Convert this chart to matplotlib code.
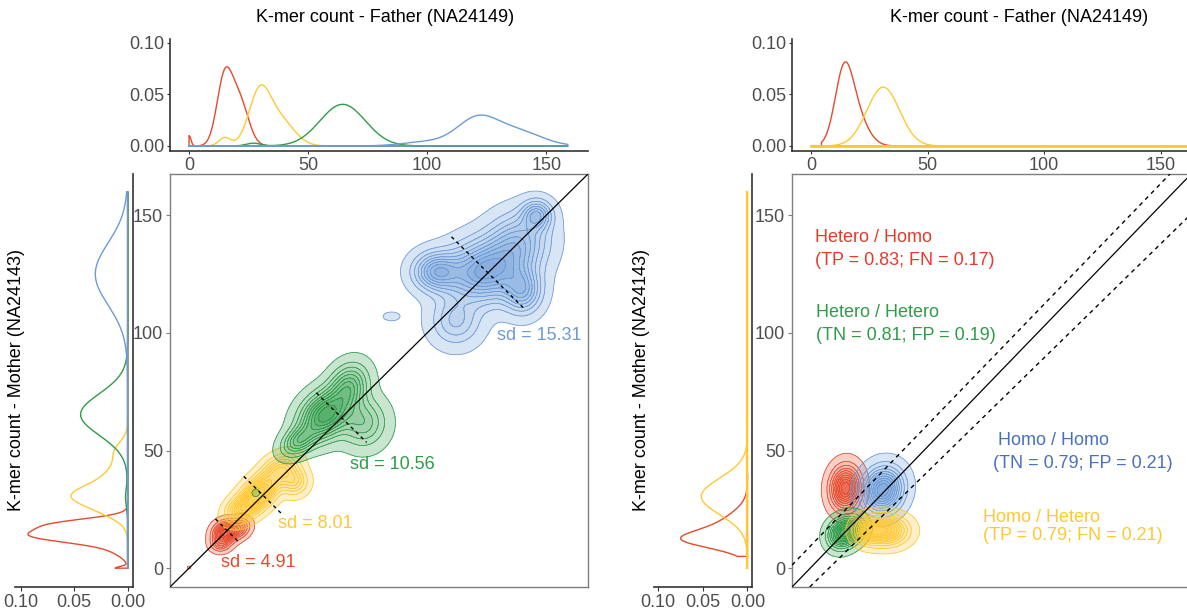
import numpy as np
import matplotlib
matplotlib.use("Agg")
import matplotlib.pyplot as plt
from matplotlib.colors import to_rgba

plt.rcParams['font.family'] = ['Liberation Sans', 'DejaVu Sans']

W, H = 1187, 612

RED = '#E64A2C'
YELLOW = '#FFC832'
GREEN = '#2E9C48'
BLUE = '#6B9BD7'
RED_TXT = '#E8392B'
BLUE_TXT = '#4A70C0'
TICK = '#4D4D4D'
SPINE = '#333333'

# ---- marginal densities, gaussian mixtures: (weight, mean, sd) ----
father_red = [(0.02, 0, 0.8), (0.50, 14.8, 3.2), (0.42, 21, 3.8)]
father_yellow = [(0.05, 15, 2.5), (0.55, 29.5, 4.5), (0.38, 38, 6)]
father_green = [(0.02, 27, 3), (0.96, 64.5, 9.5)]
father_blue = [(0.1, 100, 10), (0.55, 121, 8.5), (0.35, 138, 10)]

mother_red = [(0.02, 0, 0.7), (0.06, 7, 2.5), (0.66, 13.8, 3.0), (0.30, 19, 2.3)]
mother_yellow = [(0.15, 24, 4), (0.42, 30.5, 4.2), (0.3, 38, 6), (0.1, 50, 4)]
mother_green = [(0.02, 30, 4), (0.97, 65.3, 8.8)]
mother_blue = [(1.0, 125, 13.2)]

call_top_red = [(0.55, 14, 3.8), (0.42, 18.5, 5.2)]
call_top_yellow = [(1.0, 31, 7)]
call_left_red = [(0.45, 12, 3.5), (0.48, 17, 6)]
call_left_yellow = [(1.0, 30.5, 7.7)]

# ---- 2-D clusters: (weight, mean_x, mean_y, sd_x, sd_y, rho) ----
trio_red = [(0.62, 15, 15, 3.0, 2.9, 0.15), (0.25, 21, 17, 2.8, 2.6, 0.2),
            (0.10, 13, 10, 2.5, 2.0, 0), (0.0015, 0, 0.3, 0.6, 0.5, 0)]
trio_yellow = [(0.45, 29.5, 32, 5, 5, 0.5), (0.2, 38.5, 42, 4.5, 4, 0.3),
               (0.17, 22, 25, 4, 3.5, 0.3), (0.12, 44, 37, 3.5, 3.5, 0)]
trio_green = [(0.45, 57, 65, 6.5, 6.5, 0.3), (0.2, 67, 77, 5, 6, 0.2),
              (0.18, 73, 62, 6, 6.5, 0), (0.1, 46, 54, 4.5, 4, 0.4),
              (0.0012, 28, 32, 1.2, 1.2, 0)]
trio_blue = [(0.42, 124, 126, 10, 8, 0.1), (0.2, 138, 138, 8, 8, 0.1),
             (0.12, 104, 126, 6, 5, 0), (0.08, 112, 105, 6.5, 6.5, 0),
             (0.1, 140, 118, 5, 6, 0), (0.05, 146, 150, 4, 4, 0),
             (0.0015, 85, 107, 2.5, 1.3, 0)]

call_red = [(1.0, 15.5, 34, 4.0, 5.6, 0.05)]
call_blue = [(1.0, 32, 33.3, 5.4, 5.9, 0.1)]
call_green = [(0.7, 14, 14.5, 3.8, 3.8, 0.1), (0.3, 19, 17, 3.6, 3.6, 0)]
call_yellow = [(0.75, 33, 16, 5.8, 3.8, 0), (0.25, 25, 16, 3.6, 3.4, 0)]

# sd of the difference per cluster, centre on the diagonal
sd_values = [4.91, 8.01, 10.56, 15.31]
sd_centres = [16, 31, 64, 125.5]
sd_colors = [RED, YELLOW, GREEN, BLUE]
sd_label_pos = [(13.6, 2.5), (37.2, 19.1), (67.7, 43.9), (129.5, 99)]

# reference lines of the right panel: (intercept, slope, style)
call_lines = [(0.0, 1.0, '-'), (9.3, 1.0, '--'), (-7.8, 0.945, '--')]

call_labels = [
    (["Hetero / Homo", "(TP = 0.83; FN = 0.17)"], RED_TXT, (2.1, 140.5), 9.6),
    (["Hetero / Hetero", "(TN = 0.81; FP = 0.19)"], GREEN, (2.5, 108.5), 9.8),
    ([" Homo / Homo", "(TN = 0.79; FP = 0.21)"], BLUE_TXT, (80.5, 54.2), 9.6),
    (["Homo / Hetero", "(TP = 0.79; FN = 0.21)"], YELLOW, (76.1, 21.7), 7.9),
]

LEVEL_FRACS = np.linspace(0.03, 0.9, 10)

gx = np.linspace(-10, 172, 365)
GX, GY = np.meshgrid(gx, gx)


def mix1d(x, comps):
    out = np.zeros_like(x)
    for w, m, s in comps:
        out += w * np.exp(-0.5 * ((x - m) / s) ** 2) / (s * np.sqrt(2 * np.pi))
    return out


def mix2d(comps):
    Z = np.zeros_like(GX)
    for w, mx, my, sx, sy, rho in comps:
        dx = (GX - mx) / sx
        dy = (GY - my) / sy
        q = (dx ** 2 - 2 * rho * dx * dy + dy ** 2) / (1 - rho ** 2)
        Z += w * np.exp(-0.5 * q) / (2 * np.pi * sx * sy * np.sqrt(1 - rho ** 2))
    return Z


def draw_cluster(ax, comps, color, z):
    Z = mix2d(comps)
    zmax = Z.max()
    lv = zmax * LEVEL_FRACS
    fills = [to_rgba(color, a) for a in np.linspace(0.26, 0.8, len(lv))]
    ax.contourf(GX, GY, Z, levels=list(lv) + [zmax * 1.01], colors=fills, zorder=z)
    ax.contour(GX, GY, Z, levels=lv, colors=[color], linewidths=0.55, zorder=z + 0.5)


def draw_top(ax, comps, color, lo, hi, lw=1.0):
    x = np.linspace(lo, hi, 500)
    d = mix1d(x, comps)
    ax.plot(np.r_[lo, x, hi, lo], np.r_[0, d, 0, 0], color=color, lw=lw)


def draw_left(ax, comps, color, lo, hi, lw=1.0):
    y = np.linspace(lo, hi, 500)
    d = mix1d(y, comps)
    ax.plot(np.r_[0, d, 0, 0], np.r_[lo, y, hi, lo], color=color, lw=lw)


fig = plt.figure(figsize=(W / 100, H / 100), dpi=100)


def px_axes(x0, y0, x1, y1):
    return fig.add_axes([x0 / W, 1 - y1 / H, (x1 - x0) / W, (y1 - y0) / H])


def style_top(ax, xlim):
    ax.set_xlim(*xlim)
    ax.set_ylim(-0.0049, 0.1036)
    for s in ['top', 'right']:
        ax.spines[s].set_visible(False)
    for s in ['left', 'bottom']:
        ax.spines[s].set_color(SPINE)
        ax.spines[s].set_linewidth(1.2)
    ax.set_xticks([0, 50, 100, 150])
    ax.set_yticks([0, 0.05, 0.10])
    ax.set_yticklabels(['0.00', '0.05', '0.10'])
    ax.tick_params(length=2.5, width=0.8, color=SPINE, labelcolor=TICK,
                   labelsize=13, pad=1.5)
    ax.patch.set_alpha(0)


def style_left(ax, xlim, ylim):
    ax.set_xlim(*xlim)
    ax.set_ylim(*ylim)
    for s in ['top', 'left']:
        ax.spines[s].set_visible(False)
    for s in ['right', 'bottom']:
        ax.spines[s].set_color(SPINE)
        ax.spines[s].set_linewidth(1.2)
    ax.set_xticks([0.10, 0.05, 0])
    ax.set_xticklabels(['0.10', '0.05', '0.00'])
    ax.set_yticks([])
    ax.tick_params(axis='x', length=3, width=0.8, color=SPINE, labelcolor=TICK,
                   labelsize=13, pad=2)
    ax.patch.set_alpha(0)


def style_main(ax, xlim, ylim):
    ax.set_xlim(*xlim)
    ax.set_ylim(*ylim)
    for s in ax.spines.values():
        s.set_color('#7F7F7F')
        s.set_linewidth(1.0)
    ax.set_xticks([])
    ax.set_yticks([0, 50, 100, 150])
    ax.tick_params(axis='y', length=3, width=0.8, color='#7F7F7F',
                   labelcolor=TICK, labelsize=13, pad=2)


# ================= left panel: trio k-mer counts =================
lim = (-8, 167.5)
ax_main = px_axes(170, 174, 588, 587)
style_main(ax_main, lim, lim)
for comps, col, z in [(trio_red, RED, 1), (trio_yellow, YELLOW, 2),
                      (trio_green, GREEN, 3), (trio_blue, BLUE, 4)]:
    draw_cluster(ax_main, comps, col, z)
ax_main.axline((0, 0), slope=1, color='black', lw=0.9, zorder=10)
for sd, m, col, (tx, ty) in zip(sd_values, sd_centres, sd_colors, sd_label_pos):
    ax_main.plot([m - sd, m + sd], [m + sd, m - sd], color='black', lw=1.0,
                 ls=(0, (2.5, 2.5)), zorder=11)
    ax_main.text(tx, ty, f"sd = {sd:.2f}", color=col, fontsize=13,
                 ha='left', va='center', zorder=12)

ax_top = px_axes(170, 39, 588, 151)
style_top(ax_top, lim)
for comps, col in [(father_red, RED), (father_yellow, YELLOW),
                   (father_green, GREEN), (father_blue, BLUE)]:
    draw_top(ax_top, comps, col, 0, 159)

ax_left = px_axes(15, 174, 133, 587)
style_left(ax_left, (0.1053, -0.005), lim)
for comps, col in [(mother_red, RED), (mother_yellow, YELLOW),
                   (mother_green, GREEN), (mother_blue, BLUE)]:
    draw_left(ax_left, comps, col, 0, 160)

fig.text(385 / W, 1 - 18 / H, "K-mer count - Father (NA24149)",
         fontsize=13, ha='center', va='center')
fig.text(17 / W, 1 - 380 / H, "K-mer count - Mother (NA24143)",
         fontsize=13, ha='center', va='center', rotation=90)

# ================= right panel: genotype calls =================
ax_main2 = px_axes(792, 174, 1190, 587)
style_main(ax_main2, (-8, 167), lim)
for comps, col, z in [(call_red, RED, 1), (call_blue, BLUE, 2),
                      (call_green, GREEN, 3), (call_yellow, YELLOW, 4)]:
    draw_cluster(ax_main2, comps, col, z)
for b, k, ls in call_lines:
    ax_main2.axline((0, b), slope=k, color='black',
                    lw=0.9 if ls == '-' else 1.0,
                    ls='-' if ls == '-' else (0, (3, 3)), zorder=10)
for lines, col, (tx, ty), gap in call_labels:
    for i, s in enumerate(lines):
        ax_main2.text(tx, ty - i * gap, s, color=col, fontsize=13,
                      ha='left', va='center', zorder=12)

ax_top2 = px_axes(792, 39, 1190, 151)
style_top(ax_top2, (-8.1, 162.5))
draw_top(ax_top2, call_top_red, RED, 4.5, 45)
draw_top(ax_top2, call_top_yellow, YELLOW, 0, 165, lw=1.0)
ax_top2.plot([0, 165], [0, 0], color=YELLOW, lw=2.0)

ax_left2 = px_axes(654, 174, 752, 587)
style_left(ax_left2, (0.1048, -0.0051), lim)
draw_left(ax_left2, call_left_red, RED, 5, 40)
draw_left(ax_left2, call_left_yellow, YELLOW, 0, 160)
ax_left2.plot([0, 0], [0, 160], color=YELLOW, lw=1.6)

fig.text(1019 / W, 1 - 18 / H, "K-mer count - Father (NA24149)",
         fontsize=13, ha='center', va='center')
fig.text(642 / W, 1 - 380 / H, "K-mer count - Mother (NA24143)",
         fontsize=13, ha='center', va='center', rotation=90)

fig.savefig('out.png', dpi=100)
